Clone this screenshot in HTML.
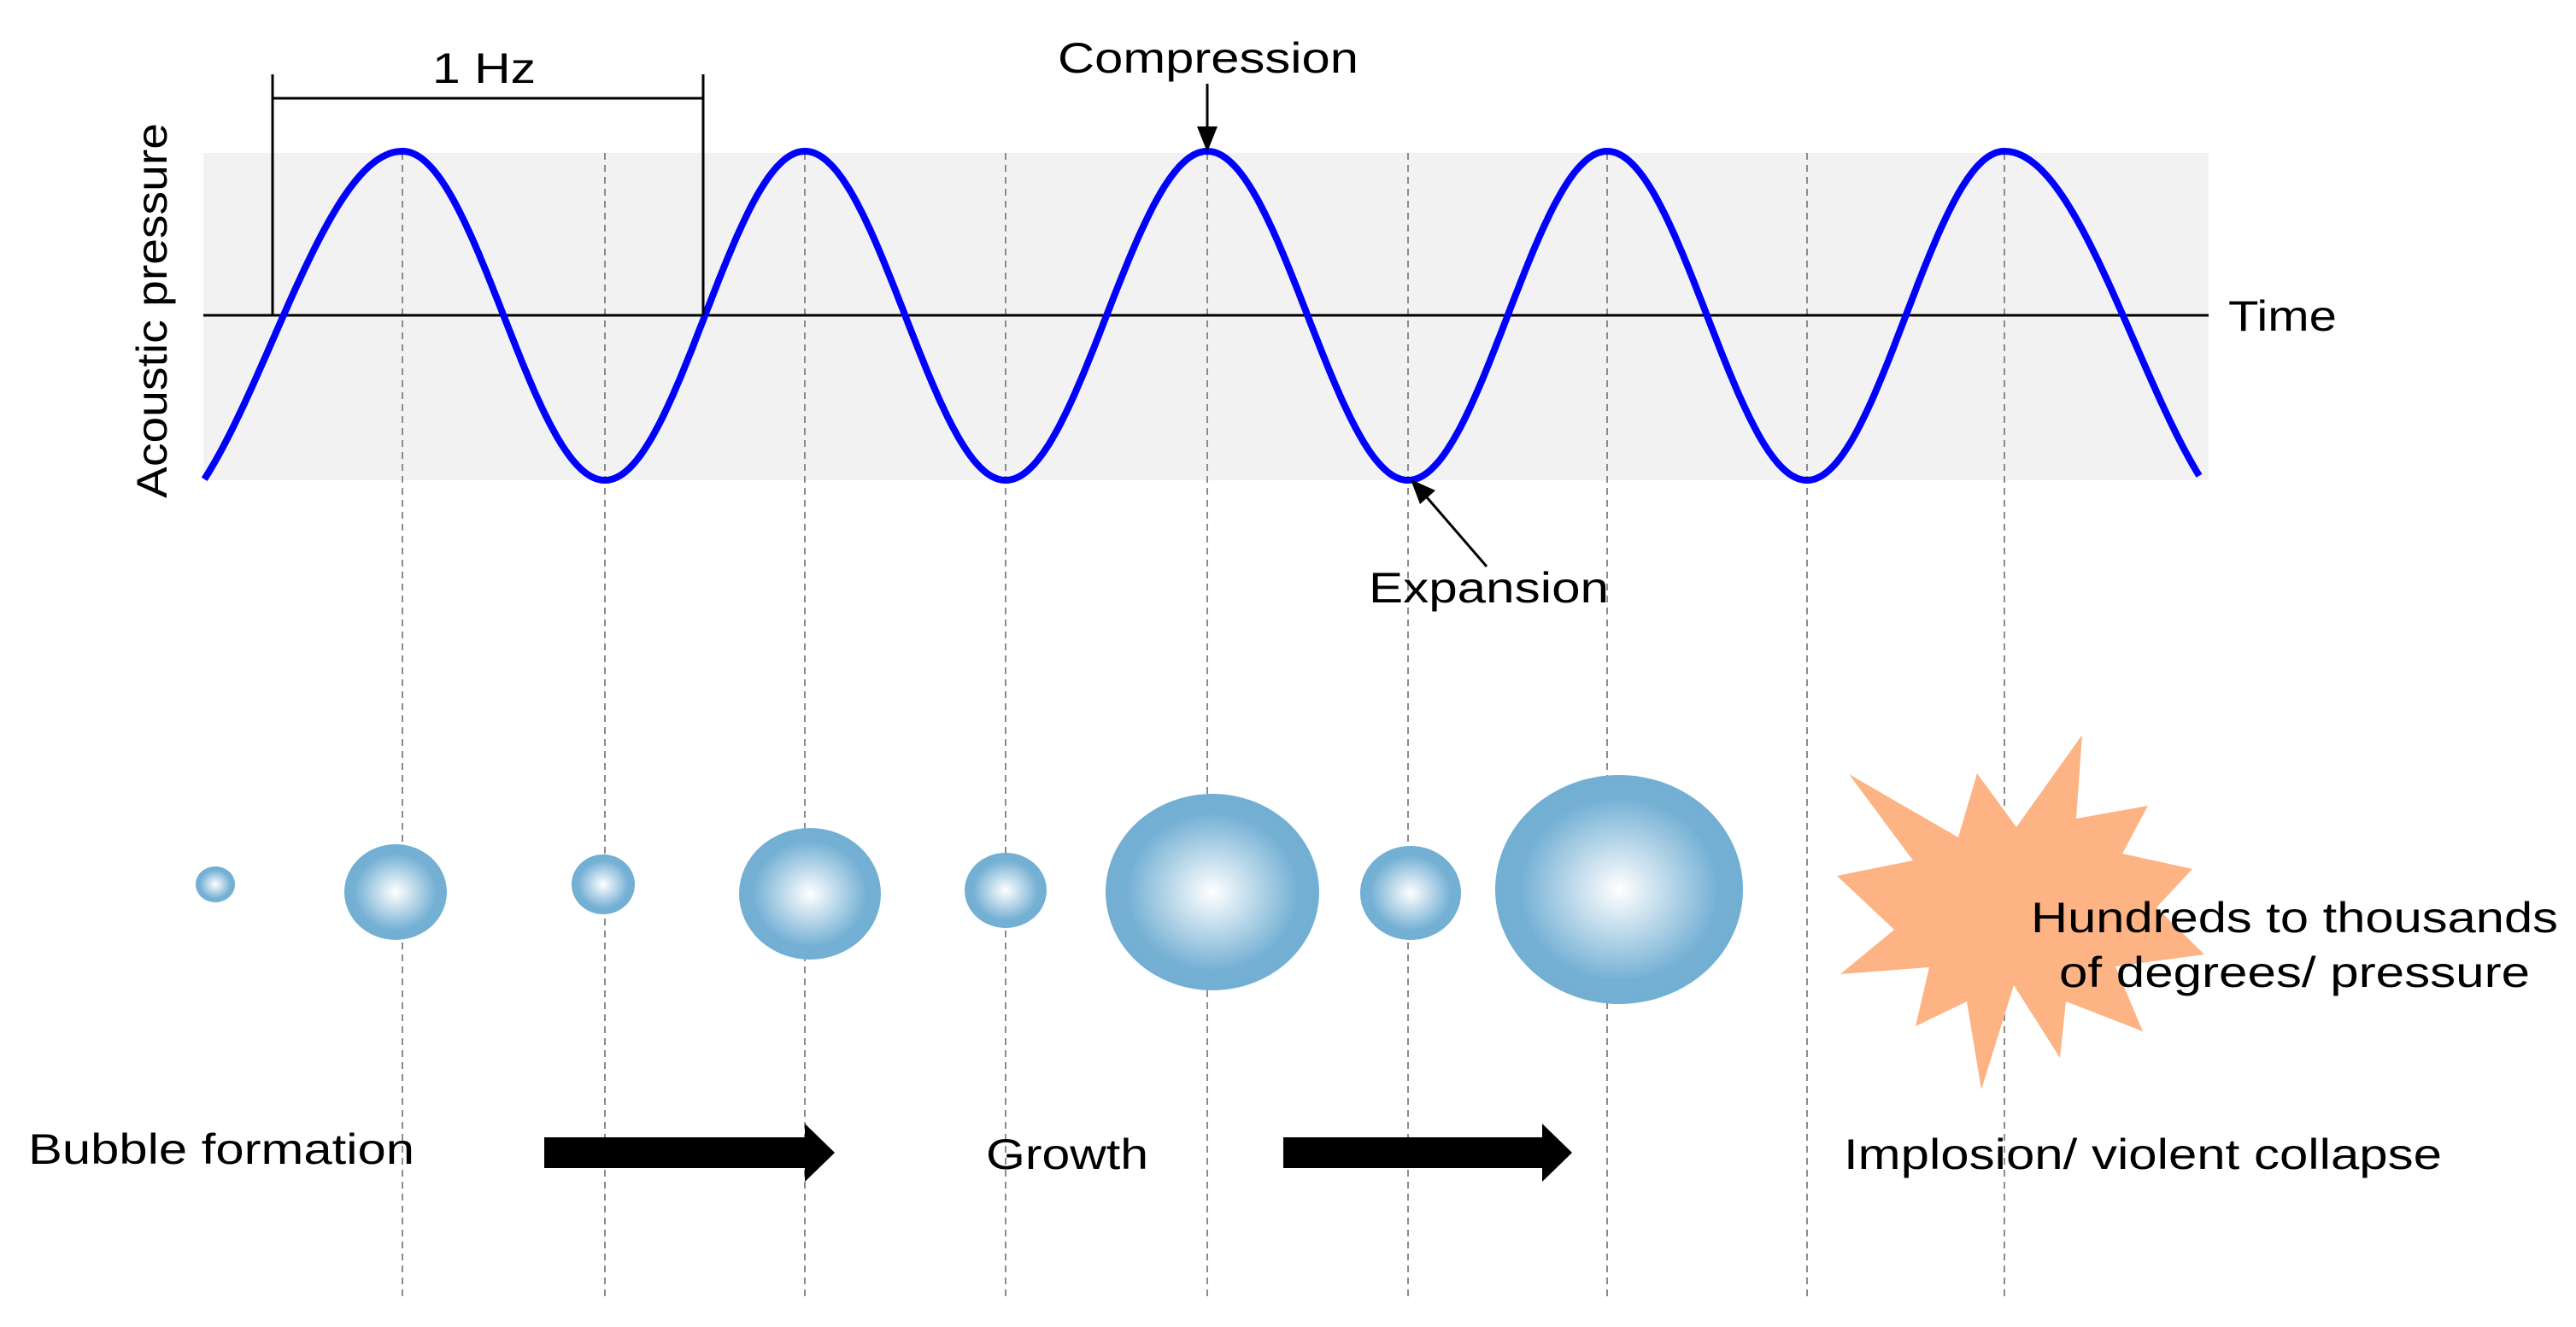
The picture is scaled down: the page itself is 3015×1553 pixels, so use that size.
<!DOCTYPE html>
<html><head><meta charset="utf-8">
<style>html,body{margin:0;padding:0;background:#fff}svg{display:block}</style></head>
<body>
<svg id="s" width="3015" height="1553" viewBox="0 0 3015 1553" xmlns="http://www.w3.org/2000/svg" font-family="Liberation Sans, Arial, sans-serif" font-size="50" fill="#000">
<defs>
<radialGradient id="g" cx="50%" cy="50%" r="50%">
<stop offset="0" stop-color="#ffffff"/>
<stop offset="0.8" stop-color="#74b0d4"/>
<stop offset="1" stop-color="#72afd3"/>
</radialGradient>
<clipPath id="cp"><rect x="230" y="0" width="2356" height="1553"/></clipPath>
</defs>
<rect x="238" y="179" width="2347" height="383" fill="#f2f2f2"/>
<g id="dash" stroke="#8c8c8c" stroke-width="2" stroke-dasharray="8 6"></g>
<line x1="238" y1="369" x2="2585" y2="369" stroke="#000" stroke-width="3"/>
<path id="sine" fill="none" stroke="#0000ff" stroke-width="8" stroke-linejoin="round"/>
<g stroke="#000" stroke-width="3">
<line x1="319" y1="87" x2="319" y2="369"/>
<line x1="823" y1="87" x2="823" y2="369"/>
<line x1="319" y1="115" x2="823" y2="115"/>
<line x1="1413" y1="98" x2="1413" y2="150"/>
<line x1="1740" y1="663" x2="1670" y2="582"/>
</g>
<polygon points="1401,148 1425,148 1413,178" fill="#000"/>
<polygon points="1651,561 1680,574 1662,590" fill="#000"/>
<text x="506" y="97" textLength="121" lengthAdjust="spacingAndGlyphs">1 Hz</text>
<text x="1238" y="85" textLength="352" lengthAdjust="spacingAndGlyphs">Compression</text>
<text x="1602" y="705" textLength="281" lengthAdjust="spacingAndGlyphs">Expansion</text>
<text x="2608" y="387" textLength="127" lengthAdjust="spacingAndGlyphs">Time</text>
<text transform="translate(195,583) rotate(-90)" textLength="439" lengthAdjust="spacingAndGlyphs">Acoustic pressure</text>
<g fill="url(#g)">
<ellipse cx="252" cy="1035" rx="23" ry="21"/>
<ellipse cx="463" cy="1044" rx="60" ry="56"/>
<ellipse cx="706" cy="1035" rx="37" ry="35"/>
<ellipse cx="948" cy="1046" rx="83" ry="77"/>
<ellipse cx="1177" cy="1042" rx="48" ry="44"/>
<ellipse cx="1419" cy="1044" rx="125" ry="115"/>
<ellipse cx="1651" cy="1045" rx="59" ry="55"/>
<ellipse cx="1895" cy="1041" rx="145" ry="134"/>
</g>
<polygon fill="#fdb383" points="2437,860 2430,958 2514,943 2484,999 2566,1017 2524,1062 2580,1117 2476,1131 2508,1207 2418,1172 2411,1238 2357,1153 2319,1275 2302,1172 2242,1201 2258,1132 2154,1140 2217,1088 2150,1025 2239,1007 2164,906 2292,980 2314,905 2360,968"/>
<text x="2377" y="1091" textLength="617" lengthAdjust="spacingAndGlyphs">Hundreds to thousands</text>
<text x="2410" y="1155" textLength="551" lengthAdjust="spacingAndGlyphs">of degrees/ pressure</text>
<polygon fill="#000" points="637,1331 942,1331 942,1315 977,1349 942,1383 942,1367 637,1367"/>
<polygon fill="#000" points="1502,1331 1805,1331 1805,1315 1840,1349 1805,1383 1805,1367 1502,1367"/>
<text x="33" y="1362" textLength="452" lengthAdjust="spacingAndGlyphs">Bubble formation</text>
<text x="1154" y="1368" textLength="190" lengthAdjust="spacingAndGlyphs">Growth</text>
<text x="2158" y="1368" textLength="700" lengthAdjust="spacingAndGlyphs">Implosion/ violent collapse</text>
</svg>
<script>
(function(){
var ext=[[167,619.6],[471,177],[708,562],[942,177],[1177,562],[1413,177],[1648,562],[1881,177],[2115,562],[2346,177],[2650,622]];
var d="";
for(var i=0;i<ext.length-1;i++){
 var a=ext[i],b=ext[i+1];
 for(var k=0;k<=80;k++){
  var t=k/80,x=a[0]+(b[0]-a[0])*t;
  var y=a[1]+(b[1]-a[1])*(1-Math.cos(Math.PI*t))/2;
  if(x<238||x>2577||y>562.5)continue;
  d+=(d?"L":"M")+x.toFixed(1)+","+y.toFixed(1);
 }
}
document.getElementById("sine").setAttribute("d",d);
var xs=[471,708,942,1177,1413,1648,1881,2115,2346],g=document.getElementById("dash");
xs.forEach(function(x){var l=document.createElementNS("http://www.w3.org/2000/svg","line");
l.setAttribute("x1",x);l.setAttribute("x2",x);l.setAttribute("y1",179);l.setAttribute("y2",1518);g.appendChild(l);});
})();
</script>
</body></html>
